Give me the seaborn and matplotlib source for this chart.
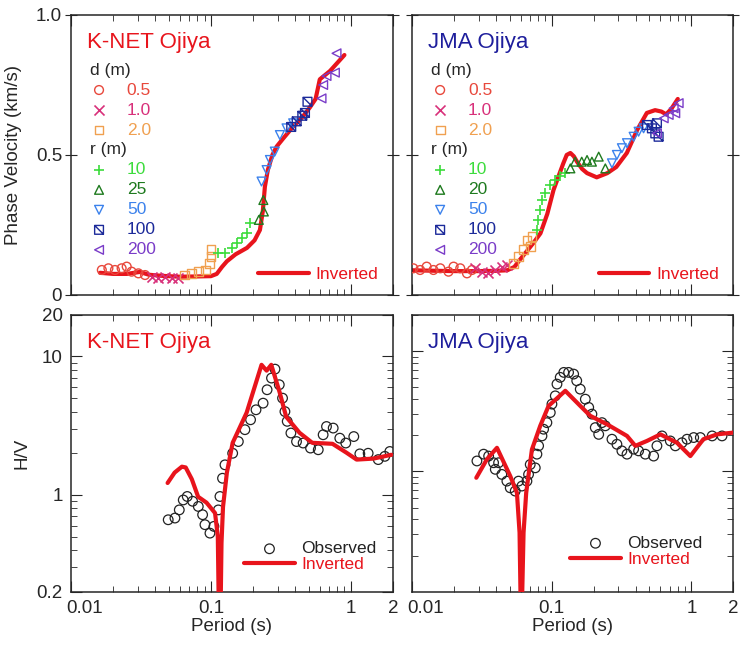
import matplotlib
matplotlib.use('Agg')
import matplotlib.pyplot as plt
import matplotlib.transforms as mtransforms
import seaborn as sns
from matplotlib.path import Path
from matplotlib.ticker import FixedLocator, FixedFormatter, LogLocator, NullFormatter

# ---------------- data: phase velocity (km/s) vs period (s) ----------------
# K-NET Ojiya
knet_inv_T = [0.0161, 0.02, 0.025, 0.031, 0.036, 0.045, 0.06, 0.08, 0.1, 0.11, 0.12, 0.13, 0.15,
              0.181, 0.205, 0.224, 0.235, 0.243, 0.255, 0.275, 0.295, 0.33, 0.385, 0.45, 0.51,
              0.56, 0.60, 0.71, 0.90]
knet_inv_v = [0.079, 0.075, 0.075, 0.082, 0.072, 0.068, 0.065, 0.066, 0.067, 0.075, 0.10, 0.12, 0.145,
              0.168, 0.195, 0.232, 0.30, 0.386, 0.446, 0.50, 0.53, 0.56, 0.60, 0.635, 0.67,
              0.70, 0.77, 0.80, 0.857]
knet_d05_T = [0.0166, 0.0185, 0.0206, 0.023, 0.025, 0.0271, 0.0303, 0.0338]
knet_d05_v = [0.089, 0.095, 0.089, 0.095, 0.101, 0.083, 0.077, 0.071]
knet_d10_T = [0.0377, 0.0421, 0.0469, 0.0524, 0.0584]
knet_d10_v = [0.065, 0.060, 0.065, 0.060, 0.060]
knet_d20_T = [0.065, 0.073, 0.081, 0.091, 0.098, 0.100, 0.100]
knet_d20_v = [0.071, 0.077, 0.083, 0.089, 0.113, 0.137, 0.161]
knet_r10_T = [0.113, 0.126, 0.141, 0.153, 0.166, 0.180, 0.190]
knet_r10_v = [0.149, 0.149, 0.167, 0.185, 0.202, 0.220, 0.258]
knet_r25_T = [0.220, 0.239, 0.237]
knet_r25_v = [0.268, 0.298, 0.339]
knet_r50_T = [0.230, 0.250, 0.264, 0.286, 0.311, 0.347, 0.387]
knet_r50_v = [0.405, 0.446, 0.482, 0.512, 0.571, 0.595, 0.613]
knet_r100_T = [0.375, 0.41, 0.45, 0.47, 0.49]
knet_r100_v = [0.60, 0.62, 0.64, 0.65, 0.69]
knet_r200_T = [0.617, 0.634, 0.670, 0.769, 0.79]
knet_r200_v = [0.702, 0.750, 0.782, 0.794, 0.863]

# JMA Ojiya
jma_inv_T = [0.010, 0.015, 0.02, 0.03, 0.04, 0.048, 0.054, 0.059, 0.066, 0.074, 0.083, 0.093, 0.103,
             0.113, 0.121, 0.128, 0.136, 0.144, 0.152, 0.165, 0.179, 0.21, 0.25, 0.29, 0.345,
             0.41, 0.48, 0.55, 0.61, 0.66, 0.72, 0.80]
jma_inv_v = [0.088, 0.086, 0.085, 0.085, 0.086, 0.088, 0.10, 0.125, 0.155, 0.186, 0.22, 0.29, 0.375,
             0.43, 0.47, 0.50, 0.507, 0.495, 0.475, 0.45, 0.435, 0.42, 0.435, 0.457, 0.507,
             0.59, 0.65, 0.66, 0.655, 0.645, 0.665, 0.70]
jma_d05_T = [0.0102, 0.0114, 0.0127, 0.0142, 0.0159, 0.0182, 0.0198, 0.0221, 0.0247, 0.0268]
jma_d05_v = [0.095, 0.089, 0.101, 0.089, 0.095, 0.083, 0.101, 0.095, 0.077, 0.089]
jma_d10_T = [0.0283, 0.0316, 0.0352, 0.0394, 0.0439, 0.0477]
jma_d10_v = [0.095, 0.083, 0.077, 0.089, 0.101, 0.107]
jma_d20_T = [0.0532, 0.0578, 0.0628, 0.0664, 0.0721, 0.0701]
jma_d20_v = [0.113, 0.137, 0.161, 0.196, 0.208, 0.173]
jma_r10_T = [0.0783, 0.0791, 0.0818, 0.0851, 0.0898, 0.0975, 0.106, 0.115, 0.125]
jma_r10_v = [0.232, 0.268, 0.304, 0.339, 0.363, 0.393, 0.411, 0.423, 0.435]
jma_r20_T = [0.136, 0.147, 0.164, 0.179, 0.194, 0.217, 0.242]
jma_r20_v = [0.452, 0.476, 0.476, 0.482, 0.476, 0.494, 0.452]
jma_r50_T = [0.27, 0.293, 0.318, 0.346, 0.386, 0.419, 0.455]
jma_r50_v = [0.470, 0.500, 0.524, 0.542, 0.565, 0.583, 0.595]
jma_r100_T = [0.481, 0.522, 0.552, 0.583, 0.567]
jma_r100_v = [0.607, 0.595, 0.577, 0.565, 0.613]
jma_r200_T = [0.567, 0.634, 0.688, 0.747, 0.811, 0.767]
jma_r200_v = [0.577, 0.631, 0.643, 0.667, 0.685, 0.649]

# ---------------- data: H/V spectral ratio vs period (s) ----------------
knet_hv_obs_T = [0.0495, 0.0553, 0.0594, 0.0634, 0.0677, 0.0740, 0.0812, 0.0872, 0.0906, 0.0984,
                 0.105, 0.113, 0.116, 0.121, 0.126, 0.143, 0.157, 0.175, 0.192, 0.21, 0.236,
                 0.252, 0.271, 0.287, 0.308, 0.325, 0.338, 0.351, 0.373, 0.409, 0.456, 0.515,
                 0.585, 0.634, 0.67, 0.748, 0.834, 0.92, 1.05, 1.16, 1.33, 1.57, 1.75, 1.90]
knet_hv_obs = [0.662, 0.681, 0.78, 0.92, 0.975, 0.90, 0.826, 0.72, 0.61, 0.53,
               0.593, 0.78, 0.975, 1.32, 1.65, 2.0, 2.43, 2.96, 3.49, 4.12, 4.6,
               5.75, 6.98, 8.1, 6.25, 5.0, 4.0, 3.4, 2.8, 2.43, 2.37, 2.18,
               2.12, 2.72, 3.12, 3.04, 2.57, 2.37, 2.64, 1.98, 2.0, 1.80, 1.90, 2.06]
knet_hv_inv_T = [0.049, 0.055, 0.062, 0.066, 0.073, 0.081, 0.093, 0.107, 0.112, 0.1155, 0.119,
                 0.122, 0.13, 0.143, 0.18, 0.23, 0.25, 0.27, 0.31, 0.345, 0.43, 0.53, 0.74,
                 0.93, 1.1, 1.45, 1.95]
knet_hv_inv = [1.22, 1.45, 1.60, 1.58, 1.3, 0.97, 0.88, 0.74, 0.5, 0.05, 0.45,
               0.82, 1.45, 2.38, 3.93, 8.7, 7.9, 8.7, 5.5, 3.67, 2.81, 2.38, 2.34,
               2.02, 1.80, 1.83, 1.95]

jma_hv_obs_T = [0.0291, 0.0325, 0.0353, 0.0383, 0.0416, 0.0394, 0.0439, 0.0477, 0.0504, 0.0547,
                0.0578, 0.0611, 0.0664, 0.0682, 0.0701, 0.0762, 0.0783, 0.0805, 0.0851, 0.0874,
                0.0923, 0.0976, 0.1003, 0.106, 0.109, 0.115, 0.122, 0.132, 0.1435, 0.151, 0.160,
                0.174, 0.184, 0.194, 0.205, 0.217, 0.229, 0.242, 0.270, 0.293, 0.318, 0.346,
                0.386, 0.419, 0.468, 0.537, 0.567, 0.617, 0.707, 0.768, 0.857, 0.931, 1.04,
                1.16, 1.41, 1.66]
jma_hv_obs = [1.22, 1.39, 1.34, 1.18, 1.18, 1.04, 0.944, 0.83, 0.73, 0.686,
              0.83, 0.755, 0.83, 0.944, 1.14, 1.07, 1.39, 1.63, 1.97, 2.24,
              2.54, 3.08, 3.62, 4.24, 5.31, 6.04, 6.64, 6.64, 6.43, 5.66, 4.82,
              3.98, 3.4, 2.99, 2.31, 2.03, 2.54, 2.39, 1.85, 1.68, 1.48, 1.39,
              1.53, 1.48, 1.39, 1.34, 1.63, 1.97, 1.79, 1.63, 1.73, 1.85, 1.91,
              1.91, 1.97, 1.97]
jma_hv_inv_T = [0.0288, 0.0343, 0.0405, 0.0504, 0.0563, 0.0588, 0.0604, 0.0628, 0.0656, 0.0721,
                0.0827, 0.0949, 0.125, 0.16, 0.189, 0.249, 0.346, 0.397, 0.481, 0.60, 0.789,
                0.984, 1.22, 1.53, 2.0]
jma_hv_inv = [0.885, 1.26, 1.57, 0.915, 0.664, 0.31, 0.04, 0.31, 0.664, 1.52,
              2.39, 3.5, 4.67, 3.5, 2.89, 2.46, 1.97, 1.63, 1.79, 2.03, 1.73,
              1.34, 1.85, 2.03, 2.1]

d_labels = ['0.5', '1.0', '2.0']
knet_r_labels = ['10', '25', '50', '100', '200']
jma_r_labels = ['10', '20', '50', '100', '200']

# ---------------- style ----------------
sns.set_style('ticks')
plt.rcParams['font.family'] = ['Liberation Sans', 'DejaVu Sans']
plt.rcParams['axes.linewidth'] = 1.1

RED = '#e8141c'
NAVY = '#1e1e9c'
d_colors = ['#e8483c', '#d8307a', '#f0a050']
r_colors = ['#3cdc3c', '#1e7a1e', '#3c82ec', '#1c2a9a', '#7a3cc8']

# square with a diagonal, for r = 100 m
box_diag = Path([(-1, -1), (1, -1), (1, 1), (-1, 1), (-1, -1), (-1, 1), (1, -1)],
                [Path.MOVETO, Path.LINETO, Path.LINETO, Path.LINETO, Path.CLOSEPOLY,
                 Path.MOVETO, Path.LINETO])
d_markers = ['o', 'x', 's']
r_markers = ['+', '^', 'v', box_diag, '<']


def pts(ax, T, v, marker, color, s=40):
    if isinstance(marker, str) and marker in ('x', '+'):
        sns.scatterplot(x=T, y=v, ax=ax, marker=marker, color=color, s=s * 1.3,
                        linewidth=1.2, legend=False, zorder=3)
    else:
        sns.scatterplot(x=T, y=v, ax=ax, marker=marker, facecolor='none', edgecolor=color,
                        s=s, linewidth=1.0, legend=False, zorder=3)
    return ax.collections[-1]


def log_x(ax, labels):
    ax.set_xscale('log')
    ax.set_xlim(0.01, 2)
    ax.xaxis.set_major_locator(FixedLocator([0.01, 0.1, 1, 2]))
    ax.xaxis.set_minor_locator(LogLocator(base=10, subs=range(2, 10)))
    ax.xaxis.set_minor_formatter(NullFormatter())
    if labels:
        ax.xaxis.set_major_formatter(FixedFormatter(['0.01', '0.1', '1', '2']))
        ax.set_xlabel('Period (s)', fontsize=13.5, labelpad=1)
    else:
        ax.xaxis.set_major_formatter(NullFormatter())
        ax.set_xlabel('')


def phase_panel(ax, name, name_color, inv_T, inv_v, d_sets, r_sets, r_labels, ylabel):
    sns.lineplot(x=inv_T, y=inv_v, ax=ax, color=RED, lw=3, sort=False, estimator=None,
                 legend=False, zorder=2)
    inv_line = ax.lines[-1]
    d_h = [pts(ax, T, v, m, c) for (T, v), m, c in zip(d_sets, d_markers, d_colors)]
    r_h = [pts(ax, T, v, m, c) for (T, v), m, c in zip(r_sets, r_markers, r_colors)]
    log_x(ax, False)
    ax.set_ylim(0, 1)
    ax.set_yticks([0, 0.5, 1.0])
    if ylabel:
        ax.set_yticklabels(['0', '0.5', '1.0'])
        ax.set_ylabel('Phase Velocity (km/s)', fontsize=13.5)
        ax.yaxis.set_label_coords(-0.152, 0.5)
    else:
        ax.set_yticklabels([])
        ax.set_ylabel('')
    ax.tick_params(axis='y', which='both', direction='inout', length=9, left=True, right=True,
                   labelsize=13.5, pad=2)
    ax.tick_params(axis='x', which='major', direction='in', length=8, top=True, bottom=True)
    ax.tick_params(axis='x', which='minor', direction='in', length=4, top=True, bottom=True)
    ax.text(0.05, 0.9, name, transform=ax.transAxes, color=name_color, fontsize=16,
            va='center', ha='left')
    leg_kw = dict(loc='upper left', frameon=False, fontsize=12.5, title_fontsize=12.5,
                  alignment='left', borderpad=0, borderaxespad=0, handlelength=1.0,
                  handletextpad=1.1, labelspacing=0.28)
    leg1 = ax.legend(d_h, d_labels, title='d (m)', bbox_to_anchor=(0.06, 0.83),
                     labelcolor=d_colors, **leg_kw)
    ax.add_artist(leg1)
    leg2 = ax.legend(r_h, r_labels, title='r (m)', bbox_to_anchor=(0.06, 0.545),
                     labelcolor=r_colors, **leg_kw)
    ax.add_artist(leg2)
    ax.legend([inv_line], ['Inverted'], loc='lower right', bbox_to_anchor=(0.955, 0.045),
              frameon=False, fontsize=12.5, labelcolor=[RED], borderpad=0, borderaxespad=0,
              handlelength=2.9, handletextpad=0.4)


def hv_panel(ax, name, name_color, obs_T, obs, inv_T, inv, ylim, ylabel, leg_anchor):
    sns.scatterplot(x=obs_T, y=obs, ax=ax, marker='o', facecolor='none', edgecolor='#222222',
                    s=48, linewidth=0.9, legend=False, zorder=2)
    obs_h = ax.collections[-1]
    sns.lineplot(x=inv_T, y=inv, ax=ax, color=RED, lw=3, sort=False, estimator=None,
                 legend=False, zorder=3)
    inv_line = ax.lines[-1]
    log_x(ax, True)
    ax.set_yscale('log')
    ax.set_ylim(*ylim)
    ax.yaxis.set_minor_locator(LogLocator(base=10, subs=range(2, 10)))
    ax.yaxis.set_minor_formatter(NullFormatter())
    if ylabel:
        ax.yaxis.set_major_locator(FixedLocator([0.2, 1, 10, 20]))
        ax.yaxis.set_major_formatter(FixedFormatter(['0.2', '1', '10', '20']))
        ax.set_ylabel('H/V', fontsize=13.5)
        ax.yaxis.set_label_coords(-0.127, 0.5)
    else:
        ax.yaxis.set_major_locator(FixedLocator([1, 10]))
        ax.yaxis.set_major_formatter(NullFormatter())
        ax.set_ylabel('')
    ax.tick_params(which='major', direction='in', length=8, top=True, right=True,
                   labelsize=13.5, pad=6)
    ax.tick_params(which='minor', direction='in', length=4, top=True, right=True)
    # the first period label sits just inside the left frame, as in the original
    shift = mtransforms.ScaledTranslation(-0.05, 0, ax.figure.dpi_scale_trans)
    first = ax.xaxis.get_majorticklabels()[0]
    first.set_horizontalalignment('left')
    first.set_transform(first.get_transform() + shift)
    ax.text(0.05, 0.9, name, transform=ax.transAxes, color=name_color, fontsize=16,
            va='center', ha='left')
    ax.legend([obs_h, inv_line], ['Observed', 'Inverted'], loc='lower right',
              bbox_to_anchor=leg_anchor, frameon=False, fontsize=12.5,
              labelcolor=['#222222', RED], borderpad=0, borderaxespad=0,
              handlelength=2.9, handletextpad=0.4, labelspacing=0.05)


fig = plt.figure(figsize=(7.4, 6.51), dpi=100)
ax_tl = fig.add_axes([0.096, 0.547, 0.435, 0.430])
ax_tr = fig.add_axes([0.557, 0.547, 0.434, 0.430])
ax_bl = fig.add_axes([0.096, 0.091, 0.435, 0.4255])
ax_br = fig.add_axes([0.557, 0.091, 0.434, 0.4255])

phase_panel(ax_tl, 'K-NET Ojiya', RED, knet_inv_T, knet_inv_v,
            [(knet_d05_T, knet_d05_v), (knet_d10_T, knet_d10_v), (knet_d20_T, knet_d20_v)],
            [(knet_r10_T, knet_r10_v), (knet_r25_T, knet_r25_v), (knet_r50_T, knet_r50_v),
             (knet_r100_T, knet_r100_v), (knet_r200_T, knet_r200_v)],
            knet_r_labels, True)
phase_panel(ax_tr, 'JMA Ojiya', NAVY, jma_inv_T, jma_inv_v,
            [(jma_d05_T, jma_d05_v), (jma_d10_T, jma_d10_v), (jma_d20_T, jma_d20_v)],
            [(jma_r10_T, jma_r10_v), (jma_r20_T, jma_r20_v), (jma_r50_T, jma_r50_v),
             (jma_r100_T, jma_r100_v), (jma_r200_T, jma_r200_v)],
            jma_r_labels, False)

hv_panel(ax_bl, 'K-NET Ojiya', RED, knet_hv_obs_T, knet_hv_obs, knet_hv_inv_T, knet_hv_inv,
         (0.2, 20), True, (0.95, 0.07))
hv_panel(ax_br, 'JMA Ojiya', NAVY, jma_hv_obs_T, jma_hv_obs, jma_hv_inv_T, jma_hv_inv,
         (0.1, 20), False, (0.905, 0.09))

fig.savefig('out.png', dpi=100, facecolor='white')
